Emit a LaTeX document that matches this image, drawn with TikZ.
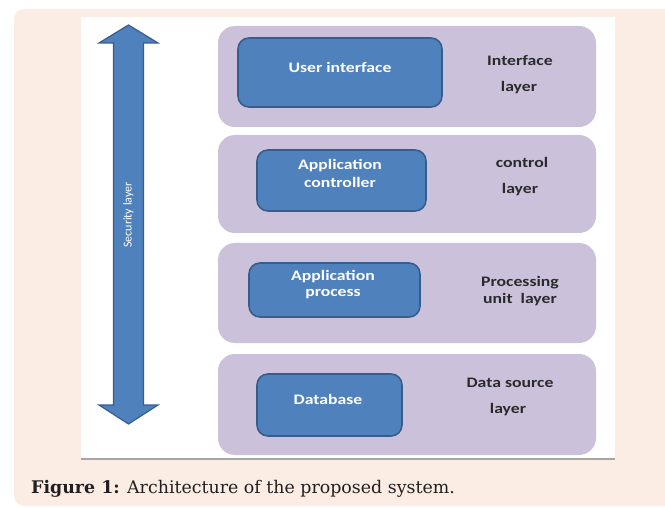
\documentclass[tikz,border=0pt]{standalone}
\usepackage{fontspec}
\newfontfamily\boxfont[FakeStretch=1.22]{Carlito}
\newfontfamily\secfont{Carlito}
\newfontfamily\capfont{DejaVu Serif}
\definecolor{peach}{HTML}{FBEDE3}
\definecolor{lav}{HTML}{CCC1DA}
\definecolor{bblue}{HTML}{4F81BD}
\definecolor{bborder}{HTML}{385D8A}
\definecolor{lbltext}{HTML}{2A2A2A}
\definecolor{captext}{HTML}{231F20}
\begin{document}
\begin{tikzpicture}[x=1pt,y=-1pt,
  layerbox/.style={fill=lav, draw=none, rounded corners=17pt, inner sep=0pt},
  compbox/.style={fill=bblue, draw=bborder, line width=1.6pt, rounded corners=11pt, inner sep=0pt},
  comptext/.style={text=white, font=\boxfont\bfseries\fontsize{14.5}{17}\selectfont, align=center, inner sep=0pt},
  lbltxt/.style={text=lbltext, font=\boxfont\bfseries\fontsize{14.5}{17}\selectfont, inner sep=0pt},
  arrowshape/.style={fill=bblue, draw=bborder, line width=1.2pt, line join=miter}
]
\useasboundingbox (0,0) rectangle (665,508);
\clip (0,0) rectangle (665,508);
% backgrounds
\fill[peach, rounded corners=10pt] (14,9) rectangle (690,506);
\fill[white] (81,17) rectangle (615,459);
\draw[gray!70, line width=1.2pt] (81,459) -- (615,459);

% security arrow
\draw[arrowshape] (128.5,25) -- (158,43) -- (143.5,43) -- (143.5,405) -- (158,405) -- (128.5,424)
  -- (99,405) -- (113.5,405) -- (113.5,43) -- (99,43) -- cycle;
\node[rotate=90, text=white, font=\secfont\fontsize{12}{14}\selectfont, inner sep=0pt] (sec) at (128.5,215) {Security layer};

% layers
\node[layerbox, minimum width=378pt, minimum height=101pt] (L1) at (407,76.5) {};
\node[layerbox, minimum width=378pt, minimum height=98pt] (L2) at (407,184) {};
\node[layerbox, minimum width=378pt, minimum height=100pt] (L3) at (407,293) {};
\node[layerbox, minimum width=378pt, minimum height=101pt] (L4) at (407,404.5) {};

% components
\node[compbox, minimum width=204pt, minimum height=69pt] (B1) at (340,72.5) {};
\node[compbox, minimum width=169pt, minimum height=61pt] (B2) at (341.5,180.5) {};
\node[compbox, minimum width=171pt, minimum height=54pt] (B3) at (334.5,290) {};
\node[compbox, minimum width=145pt, minimum height=62pt] (B4) at (329.5,405) {};

\node[comptext] (t1) at (340,67) {User interface};
\node[comptext] (t2a) at (340,166) {Application};
\node[comptext] (t2b) at (340,182) {controller};
\node[comptext] (t3a) at (333,277) {Application};
\node[comptext] (t3b) at (333,294) {process};
\node[comptext] (t4) at (328,399) {Database};

% layer labels
\node[lbltxt] (l1a) at (520,61) {Interface};
\node[lbltxt] (l1b) at (519,88) {layer};
\node[lbltxt] (l2a) at (522,162) {control};
\node[lbltxt] (l2b) at (520,190) {layer};
\node[lbltxt] (l3a) at (520,283) {Processing};
\node[lbltxt] (l3b) at (520,300) {unit\ \ layer};
\node[lbltxt] (l4a) at (510,383) {Data source};
\node[lbltxt] (l4b) at (508,410) {layer};

% caption
\node[anchor=base west, inner sep=0pt, text=captext, font=\capfont\fontsize{17.4}{21}\selectfont] (cap) at (31,493)
  {\textbf{Figure 1:} Architecture of the proposed system.};
\end{tikzpicture}
\end{document}
